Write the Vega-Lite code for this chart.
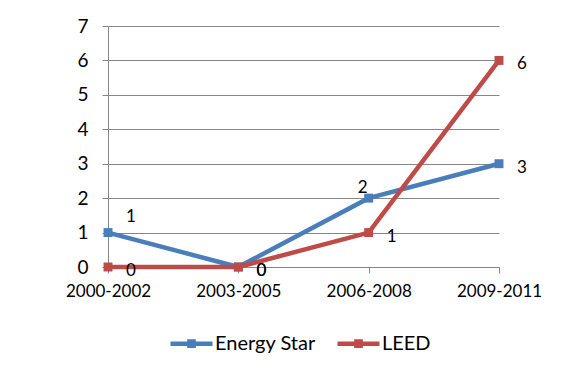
{
  "$schema": "https://vega.github.io/schema/vega-lite/v6.json",
  "width": 391,
  "height": 241,
  "autosize": "none",
  "padding": {"left": 108, "top": 26, "right": 82, "bottom": 102},
  "background": "white",
  "config": {
    "font": "Lato",
    "view": {"stroke": null},
    "axis": {
      "domainColor": "#868686",
      "tickColor": "#868686",
      "gridColor": "#868686",
      "gridWidth": 1,
      "domainWidth": 1,
      "tickWidth": 1,
      "tickSize": 6,
      "labelColor": "#000000",
      "labelFont": "Lato",
      "labelFontWeight": "normal"
    },
    "legend": {"labelFont": "Lato"}
  },
  "data": {
    "values": [
      {"period": "2000-2002", "series": "Energy Star", "count": 1},
      {"period": "2003-2005", "series": "Energy Star", "count": 0},
      {"period": "2006-2008", "series": "Energy Star", "count": 2},
      {"period": "2009-2011", "series": "Energy Star", "count": 3},
      {"period": "2000-2002", "series": "LEED", "count": 0},
      {"period": "2003-2005", "series": "LEED", "count": 0},
      {"period": "2006-2008", "series": "LEED", "count": 1},
      {"period": "2009-2011", "series": "LEED", "count": 6}
    ]
  },
  "encoding": {
    "x": {
      "field": "period",
      "type": "ordinal",
      "sort": ["2000-2002", "2003-2005", "2006-2008", "2009-2011"],
      "scale": {"type": "point", "padding": 0},
      "axis": {"title": null, "labelAngle": 0, "labelFontSize": 17, "labelPadding": 10, "grid": false, "ticks": true, "domain": true}
    },
    "y": {
      "field": "count",
      "type": "quantitative",
      "scale": {"domain": [0, 7], "nice": false, "zero": true},
      "axis": {"title": null, "values": [0, 1, 2, 3, 4, 5, 6, 7], "labelFontSize": 19, "labelPadding": 14, "grid": true, "domain": true, "ticks": true}
    },
    "color": {
      "field": "series",
      "type": "nominal",
      "scale": {"domain": ["Energy Star", "LEED"], "range": ["#4A7EBB", "#BE4B48"]},
      "legend": {
        "title": null,
        "orient": "none",
        "legendX": 60,
        "legendY": 294,
        "direction": "horizontal",
        "labelFontSize": 20,
        "labelColor": "#000000",
        "labelOffset": 0,
        "columnPadding": 12,
        "symbolType": "M-1,0H1M-0.1,-0.1H0.1V0.1H-0.1Z",
        "symbolSize": 1764,
        "symbolStrokeWidth": 4.5,
        "encode": {
          "symbols": {
            "update": {
              "fill": {"scale": "color", "field": "value"},
              "stroke": {"scale": "color", "field": "value"},
              "fillOpacity": {"value": 1},
              "strokeOpacity": {"value": 1}
            }
          }
        }
      }
    }
  },
  "layer": [
    {
      "mark": {
        "type": "line",
        "strokeWidth": 4.5,
        "point": {"shape": "square", "size": 80, "filled": true, "opacity": 1}
      }
    },
    {
      "transform": [{"filter": "!(datum.series == 'Energy Star' && (datum.period == '2000-2002' || datum.period == '2006-2008'))"}],
      "mark": {"type": "text", "dx": 23, "dy": 4, "fontSize": 17, "font": "Lato", "align": "center", "baseline": "middle"},
      "encoding": {"text": {"field": "count", "type": "quantitative"}, "color": {"value": "#000000"}}
    },
    {
      "transform": [{"filter": "datum.series == 'Energy Star' && datum.period == '2000-2002'"}],
      "mark": {"type": "text", "dx": 23, "dy": -16, "fontSize": 17, "font": "Lato", "align": "center", "baseline": "middle"},
      "encoding": {"text": {"field": "count", "type": "quantitative"}, "color": {"value": "#000000"}}
    },
    {
      "transform": [{"filter": "datum.series == 'Energy Star' && datum.period == '2006-2008'"}],
      "mark": {"type": "text", "dx": -6, "dy": -10, "fontSize": 17, "font": "Lato", "align": "center", "baseline": "middle"},
      "encoding": {"text": {"field": "count", "type": "quantitative"}, "color": {"value": "#000000"}}
    }
  ]
}
